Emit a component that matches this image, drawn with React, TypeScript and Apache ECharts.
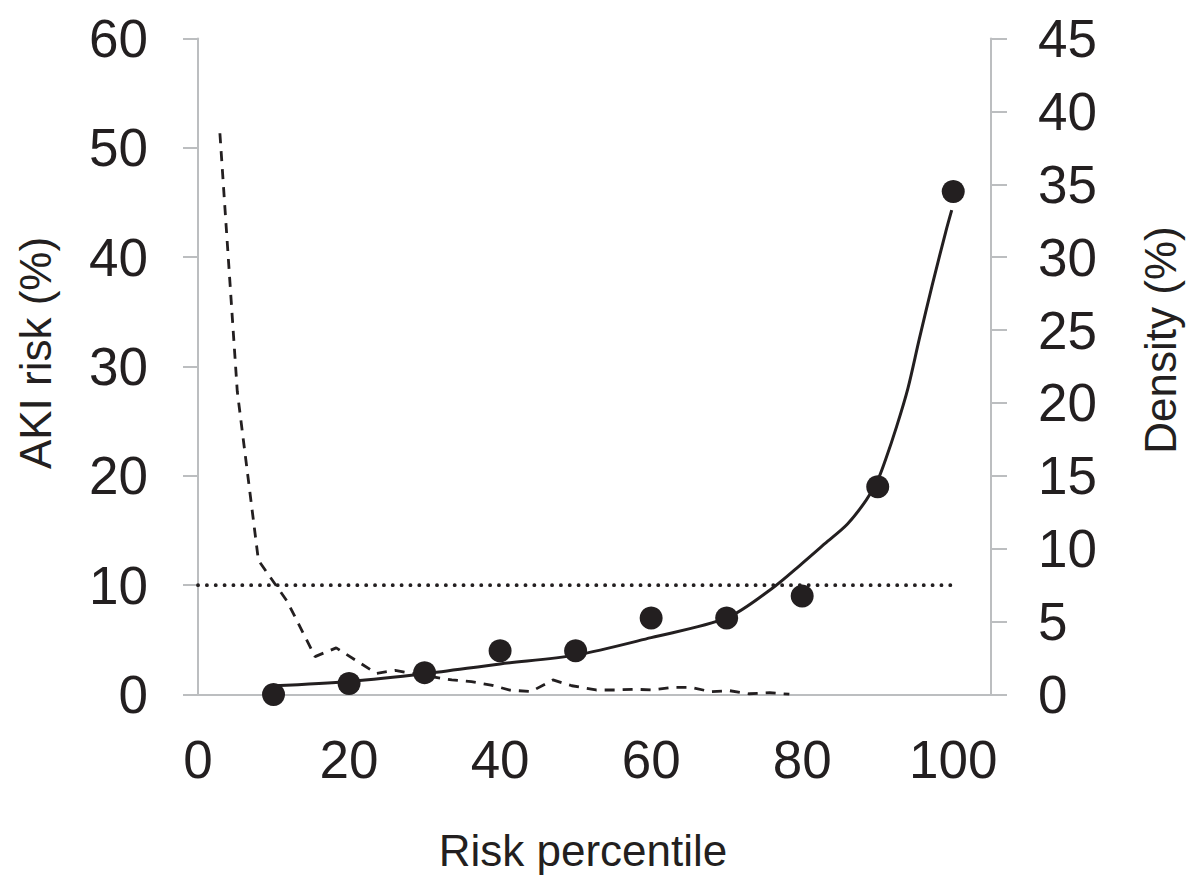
import React, { useEffect, useRef } from "react";
import * as echarts from "echarts";

// Fitted AKI risk curve (left axis, %)
const curveX = [10, 20, 30, 40, 50, 60, 70, 76, 80, 83, 86, 88.5, 90, 91, 92.5, 94, 95.5, 97.2, 99, 99.8];
const curveY = [0.8, 1.2, 1.9, 2.8, 3.6, 5.2, 7.0, 9.7, 12.0, 13.8, 15.6, 17.8, 19.6, 21.4, 24.5, 28.0, 32.5, 37.4, 42.3, 44.3];

// Observed AKI risk per decile (left axis, %)
const pointX = [10, 20, 30, 40, 50, 60, 70, 80, 90, 100];
const pointY = [0, 1, 2, 4, 4, 7, 7, 9, 19, 46];

// Density of risk percentile (right axis, %)
const densX = [2.9, 5.2, 8.0, 11.8, 15.5, 18.3, 23.6, 26.1, 30.0, 33.6, 36.2, 38.8, 41.3, 44.1, 47.0, 49.5, 52.7, 55.2, 57.8, 60.2, 62.9, 65.3, 67.9, 70.4, 73.0, 75.7, 78.3];
const densY = [38.5, 20.8, 9.2, 6.4, 2.6, 3.2, 1.45, 1.65, 1.3, 1.0, 0.88, 0.65, 0.3, 0.2, 1.0, 0.6, 0.31, 0.31, 0.36, 0.31, 0.49, 0.49, 0.19, 0.26, 0.05, 0.12, 0.02];

// Threshold line (left axis, %)
const thresholdX = [0, 100];
const thresholdY = [10, 10];

const xTicks = [0, 20, 40, 60, 80, 100];

const INK = "#231f20";
const GRAY = "#bcbec0";
const FONT = "'Liberation Sans', Arial, Helvetica, sans-serif";

export default function App() {
  const ref = useRef<HTMLDivElement>(null);

  useEffect(() => {
    if (!ref.current) return;
    const chart = echarts.init(ref.current, undefined, { renderer: "svg" });
    const zip = (xs: number[], ys: number[]) => xs.map((x, i) => [x, ys[i]]);
    const labelStyle = { color: INK, fontSize: 53, fontFamily: FONT };
    chart.setOption({
      animation: false,
      backgroundColor: "#ffffff",
      grid: { left: 198, right: 207, top: 38.5, bottom: 182.5, containLabel: false, outerBoundsMode: "none" },
      xAxis: {
        type: "value",
        min: 0,
        max: 105,
        interval: 20,
        axisLine: { show: true, onZero: false, lineStyle: { color: GRAY, width: 2 } },
        axisTick: { show: false },
        splitLine: { show: false },
        axisLabel: {
          ...labelStyle,
          margin: 38,
          showMaxLabel: false,
          formatter: (v: number) => (xTicks.includes(v) ? String(v) : ""),
        },
      },
      yAxis: [
        {
          type: "value",
          position: "left",
          min: 0,
          max: 60,
          interval: 10,
          axisLine: { show: true, lineStyle: { color: GRAY, width: 2 } },
          axisTick: { show: true, inside: false, length: 15, lineStyle: { color: GRAY, width: 2 } },
          splitLine: { show: false },
          axisLabel: { ...labelStyle, margin: 50 },
        },
        {
          type: "value",
          position: "right",
          min: 0,
          max: 45,
          interval: 5,
          axisLine: { show: true, lineStyle: { color: GRAY, width: 2 } },
          axisTick: { show: true, inside: false, length: 16, lineStyle: { color: GRAY, width: 2 } },
          splitLine: { show: false },
          axisLabel: { ...labelStyle, margin: 47 },
        },
      ],
      series: [
        {
          name: "Density",
          type: "line",
          yAxisIndex: 1,
          data: zip(densX, densY),
          showSymbol: false,
          symbol: "none",
          lineStyle: { color: INK, width: 2.8, type: [10, 8], opacity: 1 },
          z: 2,
        },
        {
          name: "Threshold",
          type: "line",
          yAxisIndex: 0,
          data: zip(thresholdX, thresholdY),
          symbol: "none",
          lineStyle: { color: INK, width: 3.8, type: [0.1, 8.75], cap: "round", opacity: 1 },
          z: 3,
        },
        {
          name: "Fitted risk",
          type: "line",
          yAxisIndex: 0,
          data: zip(curveX, curveY),
          symbol: "none",
          smooth: 0.3,
          lineStyle: { color: INK, width: 3, opacity: 1 },
          z: 4,
        },
        {
          name: "Observed risk",
          type: "scatter",
          yAxisIndex: 0,
          data: zip(pointX, pointY),
          symbol: "circle",
          symbolSize: 23,
          itemStyle: { color: INK, opacity: 1 },
          z: 5,
        },
      ],
      graphic: [
        {
          type: "text",
          x: 35,
          y: 353,
          rotation: Math.PI / 2,
          style: { text: "AKI risk (%)", fill: INK, fontSize: 44, fontFamily: FONT, textAlign: "center", textVerticalAlign: "middle" },
        },
        {
          type: "text",
          x: 1160,
          y: 340,
          rotation: Math.PI / 2,
          style: { text: "Density (%)", fill: INK, fontSize: 44, fontFamily: FONT, textAlign: "center", textVerticalAlign: "middle" },
        },
        {
          type: "text",
          x: 583,
          y: 850,
          style: { text: "Risk percentile", fill: INK, fontSize: 44, fontFamily: FONT, textAlign: "center", textVerticalAlign: "middle" },
        },
      ],
    });
    return () => chart.dispose();
  }, []);

  return (
    <div
      ref={ref}
      style={{ position: "fixed", left: 0, top: 0, width: 1198, height: 877, background: "#fff" }}
    />
  );
}
